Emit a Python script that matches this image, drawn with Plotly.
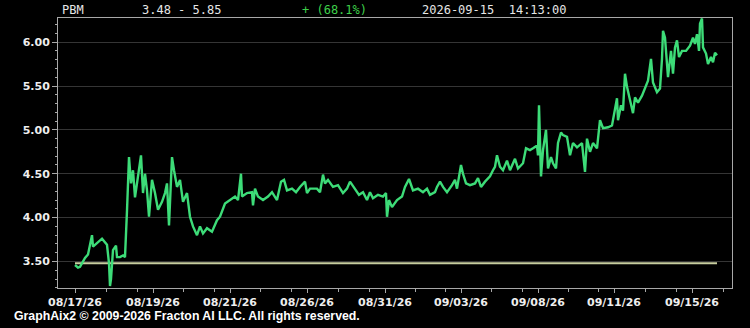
import plotly.graph_objects as go

# ---- data (bar index along the session, price) ----
bars = [0, 3, 5, 10, 13, 17, 18, 22, 27, 32, 34, 35, 36, 38, 41, 42, 45, 48, 50, 52, 54, 56, 58,
        60, 63, 66, 68, 70, 72, 74, 77, 80, 83, 87, 90, 92, 94, 97, 99, 102, 105, 108, 112, 115, 118,
        122, 125, 128, 132, 137, 142, 145, 150, 155, 160, 163, 166, 167, 172, 177, 178, 180, 183,
        188, 193, 197, 202, 206, 209, 212, 217, 221, 225, 230, 232, 235, 242, 245, 248, 250, 253,
        258, 263, 268, 272, 275, 280, 284, 288, 292, 295, 298, 303, 308, 311, 312, 314, 317, 322,
        327, 330, 334, 338, 343, 348, 352, 355, 360, 362, 365, 368, 372, 377, 380, 382, 386, 388,
        391, 395, 400, 403, 406, 410, 415, 418, 420, 422, 425, 428, 432, 435, 440, 443, 448, 451,
        455, 458, 462, 463, 464, 466, 468, 471, 473, 476, 478, 481, 483, 486, 488, 492, 495, 498,
        502, 507, 510, 512, 515, 518, 522, 525, 528, 533, 537, 542, 543, 546, 548, 550, 552, 555,
        558, 560, 563, 567, 570, 573, 576, 578, 582, 585, 587, 588, 590, 592, 593, 596, 598, 600,
        602, 604, 607, 611, 615, 618, 620, 622, 624, 625, 627, 628, 631, 633, 636, 638, 640, 642]
price = [3.46, 3.43, 3.44, 3.54, 3.58, 3.80, 3.67, 3.71, 3.76, 3.69, 3.48, 3.22, 3.30, 3.63, 3.68,
         3.55, 3.55, 3.57, 3.55, 4.08, 4.69, 4.39, 4.54, 4.23, 4.46, 4.71, 4.28, 4.50, 4.31, 4.01,
         4.43, 4.28, 4.09, 4.18, 4.28, 4.39, 3.91, 4.69, 4.54, 4.35, 4.43, 4.18, 4.28, 4.01, 3.90,
         3.80, 3.90, 3.82, 3.88, 3.84, 3.97, 4.01, 4.16, 4.20, 4.24, 4.20, 4.50, 4.24, 4.28, 4.29,
         4.14, 4.33, 4.24, 4.20, 4.24, 4.29, 4.20, 4.41, 4.43, 4.31, 4.33, 4.29, 4.35, 4.41, 4.28,
         4.33, 4.33, 4.29, 4.49, 4.39, 4.43, 4.35, 4.37, 4.28, 4.33, 4.41, 4.33, 4.26, 4.29, 4.20,
         4.29, 4.22, 4.26, 4.24, 4.28, 4.01, 4.20, 4.12, 4.20, 4.24, 4.35, 4.44, 4.31, 4.33, 4.29,
         4.33, 4.26, 4.29, 4.35, 4.41, 4.35, 4.29, 4.37, 4.43, 4.33, 4.60, 4.50, 4.39, 4.37, 4.39,
         4.45, 4.35, 4.41, 4.47, 4.54, 4.58, 4.71, 4.58, 4.54, 4.65, 4.54, 4.67, 4.56, 4.62, 4.79,
         4.77, 4.79, 4.82, 4.71, 5.28, 4.47, 4.77, 5.00, 4.56, 4.69, 4.62, 4.56, 4.85, 4.97, 4.94,
         4.92, 4.71, 4.85, 4.80, 4.85, 4.52, 4.90, 4.75, 4.85, 4.79, 5.11, 5.02, 5.03, 5.05, 5.36,
         5.11, 5.28, 5.22, 5.64, 5.49, 5.34, 5.19, 5.37, 5.31, 5.39, 5.47, 5.56, 5.81, 5.54, 5.43,
         5.47, 5.81, 6.13, 6.05, 5.79, 5.60, 5.90, 5.64, 5.94, 6.02, 5.83, 5.90, 5.90, 5.96, 6.05,
         5.98, 6.09, 5.90, 6.21, 6.27, 5.94, 5.87, 5.75, 5.83, 5.77, 5.88, 5.85]
base_price = 3.48

tick_bars = [0, 78, 155, 232, 310, 386, 463, 539, 617]
tick_labels = ["08/17/26", "08/19/26", "08/21/26", "08/26/26", "08/31/26",
               "09/03/26", "09/08/26", "09/11/26", "09/15/26"]

header_symbol = "PBM"
header_range = "3.48 - 5.85"
header_change = "+ (68.1%)"
header_time = "2026-09-15  14:13:00"
footer = "GraphAix2 \u00a9 2009-2026 Fracton AI LLC. All rights reserved."

# minor x ticks between majors
minor_x = []
for a, b in zip(tick_bars[:-1], tick_bars[1:]):
    minor_x += [a + 0.4 * (b - a), a + 0.8 * (b - a)]
minor_x.append(tick_bars[-1] + 0.4 * (tick_bars[-1] - tick_bars[-2]))

fig = go.Figure()
fig.add_trace(go.Scatter(x=[bars[0], bars[-1]], y=[base_price, base_price], mode="lines",
                         line=dict(color="#c8cea0", width=2), hoverinfo="skip"))
fig.add_trace(go.Scatter(x=bars, y=price, mode="lines",
                         line=dict(color="#3ddc78", width=2.4)))

axis_line = "#a8a8a8"
tickfont = dict(family="DejaVu Sans", size=11, color="#eeeeee", weight="bold")

fig.update_layout(
    width=750, height=328,
    margin=dict(l=58, r=18, t=18, b=40),
    paper_bgcolor="black", plot_bgcolor="black",
    showlegend=False,
    xaxis=dict(range=[-17, 657], tickmode="array", tickvals=tick_bars, ticktext=tick_labels,
               showgrid=False, zeroline=False, showline=True, mirror=True,
               linecolor=axis_line, linewidth=1,
               ticks="outside", ticklen=4, tickcolor=axis_line, tickfont=tickfont,
               minor=dict(tickmode="array", tickvals=minor_x, ticks="outside", ticklen=3,
                          tickcolor=axis_line, showgrid=False)),
    yaxis=dict(range=[3.198, 6.275], tickmode="linear", tick0=3.5, dtick=0.5, tickformat=".2f",
               showgrid=True, gridcolor="#353535", gridwidth=1, zeroline=False,
               showline=True, mirror=True, linecolor=axis_line, linewidth=1,
               ticks="outside", ticklen=5, tickcolor=axis_line, tickfont=tickfont,
               minor=dict(dtick=0.1, tick0=3.5, ticks="outside", ticklen=2,
                          tickcolor=axis_line, showgrid=False)),
)

mono = dict(family="DejaVu Sans Mono", size=12, color="#e6e6e6")
def hdr(px, text, color=None):
    f = dict(mono)
    if color:
        f["color"] = color
    fig.add_annotation(xref="paper", yref="paper", x=(px - 58) / 674, y=(288 - 10) / 270,
                       xanchor="left", yanchor="middle", text=text, showarrow=False, font=f)

hdr(60, header_symbol)
hdr(140, header_range)
hdr(300, header_change, "#3ecf4a")
hdr(420, header_time)

fig.add_annotation(xref="paper", yref="paper", x=(12 - 58) / 674, y=(288 - 316) / 270,
                   xanchor="left", yanchor="middle", text=footer, showarrow=False,
                   font=dict(family="Liberation Sans", size=12.3, color="#ffffff", weight="bold"))

fig.write_html("out.html")
